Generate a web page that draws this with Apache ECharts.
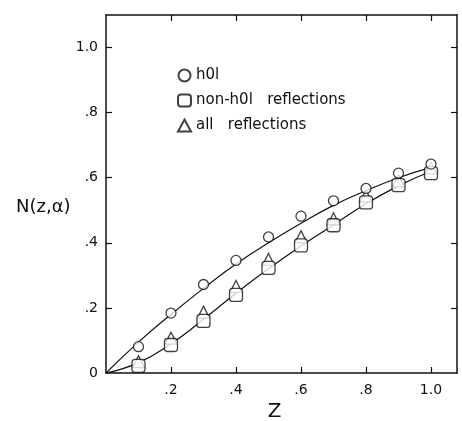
<!DOCTYPE html>
<html><head><meta charset="utf-8">
<script src="https://cdn.jsdelivr.net/npm/echarts@6/dist/echarts.min.js"></script>
<style>html,body{margin:0;padding:0;background:#fff}#c{width:462px;height:421px}</style>
</head><body><div id="c"></div>
<script>
var zValues = [0.1, 0.2, 0.3, 0.4, 0.5, 0.6, 0.7, 0.8, 0.9, 1.0];
var h0l = [0.081, 0.184, 0.272, 0.346, 0.418, 0.482, 0.529, 0.567, 0.614, 0.642];
var nonH0l = [0.022, 0.086, 0.160, 0.240, 0.323, 0.392, 0.454, 0.524, 0.577, 0.614];
var allRefl = [0.035, 0.107, 0.187, 0.266, 0.349, 0.419, 0.474, 0.544, 0.590, 0.630];
var curveZ = [0, 0.1, 0.2, 0.3, 0.4, 0.5, 0.6, 0.7, 0.8, 0.9, 1.0];
var upperCurve = [0, 0.095, 0.18, 0.26, 0.335, 0.40, 0.46, 0.515, 0.56, 0.60, 0.632];
var lowerCurve = [0, 0.032, 0.09, 0.165, 0.245, 0.32, 0.39, 0.455, 0.52, 0.575, 0.62];
var tickValues = [0, 0.2, 0.4, 0.6, 0.8, 1.0];
var seriesNames = ['h0l', 'non-h0l   reflections', 'all   reflections'];

function pairs(xs, ys){ return xs.map(function(x,i){ return [x, ys[i]]; }); }
function fmt(v){
  var r = Math.round(v*10)/10;
  if (r === 0) return '0';
  if (r === 1) return '1.0';
  return String(r).replace(/^0/, '');
}
var font = 'DejaVu Sans';
var chart = echarts.init(document.getElementById('c'), null, {renderer:'canvas'});
function axBase(){
  return {
    axisLine:{show:true, onZero:false, lineStyle:{color:'#111', width:1.5}},
    axisTick:{show:true, inside:true, length:6, customValues:tickValues.slice(1), lineStyle:{color:'#111', width:1.2}},
    splitLine:{show:false}
  };
}
chart.setOption({
  animation:false,
  backgroundColor:'#fff',
  textStyle:{fontFamily:font, color:'#111'},
  grid:{left:106, top:15, right:5, bottom:48, containLabel:false, outerBoundsMode:'none'},
  legend:{
    orient:'vertical', left:172, top:63, itemGap:10, itemWidth:13, itemHeight:12,
    data:[seriesNames[0], seriesNames[1], seriesNames[2]],
    textStyle:{fontFamily:font, fontSize:15, color:'#111'}
  },
  xAxis:[
    Object.assign(axBase(), {type:'value', min:0, max:1.08, interval:0.2,
      name:'Z', nameLocation:'middle', nameGap:28,
      nameTextStyle:{fontFamily:font, fontSize:20, color:'#111', padding:[0, 14, 0, 0]},
      axisLabel:{customValues:tickValues.slice(1), formatter:fmt, fontSize:14, color:'#111', margin:10, fontFamily:font}
    }),
    Object.assign(axBase(), {type:'value', min:0, max:1.08, interval:0.2, position:'top',
      axisLabel:{show:false}})
  ],
  yAxis:[
    Object.assign(axBase(), {type:'value', min:0, max:1.1, interval:0.2,
      axisLabel:{customValues:tickValues, formatter:fmt, fontSize:14, color:'#111', margin:8, fontFamily:font}
    }),
    Object.assign(axBase(), {type:'value', min:0, max:1.1, interval:0.2, position:'right',
      axisLabel:{show:false}})
  ],
  graphic:[{type:'text', left:16, top:198,
    style:{text:'N(z,\u03b1)', fontFamily:font, fontSize:18, fill:'#111'}}],
  series:[
    {type:'line', data:pairs(curveZ, upperCurve), smooth:true, showSymbol:false, symbol:'none',
      lineStyle:{color:'#111', width:1.2}, z:1, silent:true},
    {type:'line', data:pairs(curveZ, lowerCurve), smooth:true, showSymbol:false, symbol:'none',
      lineStyle:{color:'#111', width:1.2}, z:1, silent:true},
    {name:seriesNames[2], type:'scatter', data:pairs(zValues, allRefl), symbol:'triangle', symbolSize:12,
      itemStyle:{color:'#fff', borderColor:'#111', borderWidth:1.3}, z:2},
    {name:seriesNames[1], type:'scatter', data:pairs(zValues, nonH0l), symbol:'roundRect', symbolSize:13,
      itemStyle:{color:'#fff', borderColor:'#111', borderWidth:1.3}, z:3},
    {name:seriesNames[0], type:'scatter', data:pairs(zValues, h0l), symbol:'circle', symbolSize:10,
      itemStyle:{color:'#fff', borderColor:'#111', borderWidth:1.3}, z:4}
  ]
});
</script></body></html>
